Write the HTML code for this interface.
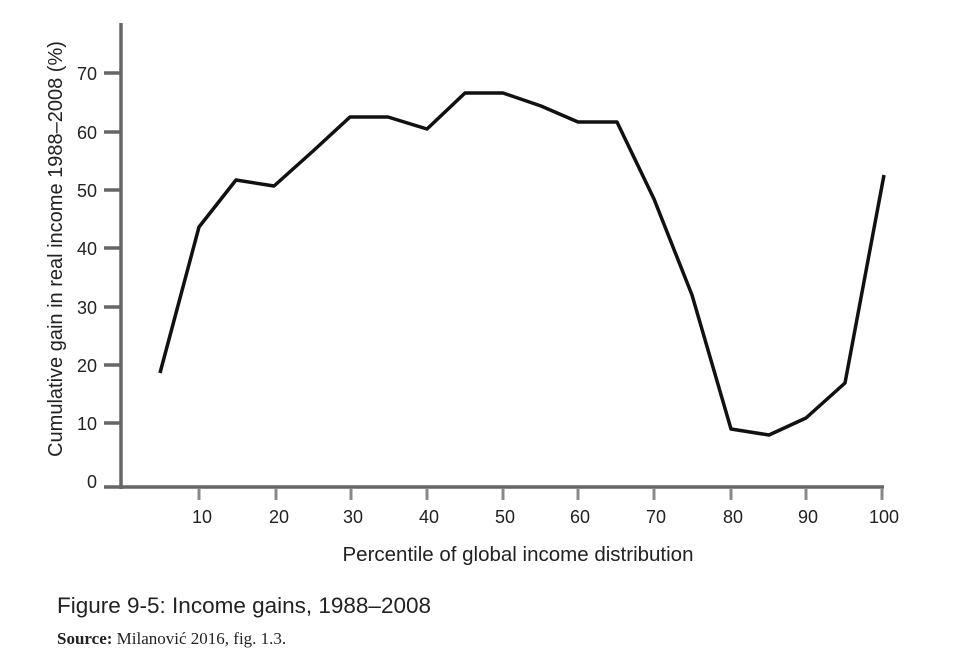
<!DOCTYPE html>
<html><head><style>
body{margin:0;background:#fff;}
svg{display:block;}
text{font-family:"Liberation Sans",sans-serif;fill:#222;}
</style></head><body>
<svg width="955" height="669" viewBox="0 0 955 669">
<g stroke="#666" stroke-width="3.5">
<line x1="121" y1="23" x2="121" y2="489"/>
<line x1="104" y1="487" x2="884" y2="487"/>
<line x1="104" y1="73" x2="121" y2="73"/>
<line x1="104" y1="132" x2="121" y2="132"/>
<line x1="104" y1="190" x2="121" y2="190"/>
<line x1="104" y1="248" x2="121" y2="248"/>
<line x1="104" y1="307" x2="121" y2="307"/>
<line x1="104" y1="365" x2="121" y2="365"/>
<line x1="104" y1="423" x2="121" y2="423"/>
</g>
<g stroke="#888" stroke-width="3">
<line x1="199" y1="488" x2="199" y2="500"/>
<line x1="276" y1="488" x2="276" y2="500"/>
<line x1="351" y1="488" x2="351" y2="500"/>
<line x1="427" y1="488" x2="427" y2="500"/>
<line x1="503" y1="488" x2="503" y2="500"/>
<line x1="578" y1="488" x2="578" y2="500"/>
<line x1="654" y1="488" x2="654" y2="500"/>
<line x1="731" y1="488" x2="731" y2="500"/>
<line x1="806" y1="488" x2="806" y2="500"/>
<line x1="882" y1="488" x2="882" y2="500"/>
</g>
<g font-size="18" text-anchor="end">
<text x="97" y="80">70</text><text x="97" y="139">60</text><text x="97" y="197">50</text>
<text x="97" y="255">40</text><text x="97" y="314">30</text><text x="97" y="372">20</text>
<text x="97" y="430">10</text><text x="97" y="488">0</text>
</g>
<g font-size="18" text-anchor="middle">
<text x="202" y="523">10</text><text x="279" y="523">20</text><text x="353" y="523">30</text>
<text x="429" y="523">40</text><text x="505" y="523">50</text><text x="580" y="523">60</text>
<text x="656" y="523">70</text><text x="733" y="523">80</text><text x="808" y="523">90</text>
<text x="884" y="523">100</text>
</g>
<text x="518" y="561" font-size="20.5" text-anchor="middle">Percentile of global income distribution</text>
<text transform="translate(62,249) rotate(-90)" font-size="20" text-anchor="middle">Cumulative gain in real income 1988–2008 (%)</text>
<polyline fill="none" stroke="#111" stroke-width="3.5" stroke-linejoin="round"
points="160,373 199,227 236,180 274,186 312,152 350,117 388,117 427,129 465,93 503,93 541,106 578,122 617,122 654,199 692,295 731,429 769,435 806,418 845,383 884,175"/>
<text x="57" y="613" font-size="22.5">Figure 9-5: Income gains, 1988–2008</text>
<text x="57" y="644" font-size="17" style="font-family:'Liberation Serif',serif"><tspan font-weight="bold">Source:</tspan> Milanović 2016, fig. 1.3.</text>
</svg>
</body></html>
